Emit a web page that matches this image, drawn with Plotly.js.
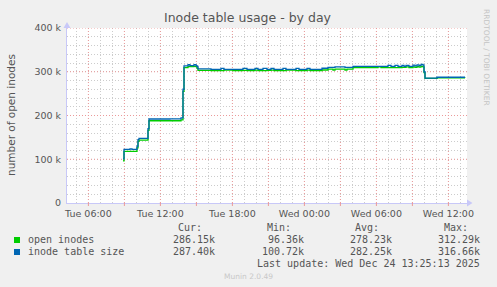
<!DOCTYPE html>
<html>
<head>
<meta charset="utf-8">
<script src="https://cdn.plot.ly/plotly-3.0.1.min.js"></script>
<style>
html,body{margin:0;padding:0;background:#f0f0f0;}
#chart{width:497px;height:287px;}
</style>
</head>
<body>
<div id="chart"></div>
<script>
// ---- data (values in thousands of inodes) ----
const times = [
  "2025-12-23 08:53","2025-12-23 08:58","2025-12-23 09:28","2025-12-23 09:38","2025-12-23 10:03",
  "2025-12-23 10:08","2025-12-23 10:13","2025-12-23 10:58","2025-12-23 11:03","2025-12-23 12:48",
  "2025-12-23 13:43","2025-12-23 13:53","2025-12-23 13:58","2025-12-23 14:18","2025-12-23 14:28",
  "2025-12-23 14:48","2025-12-23 14:58","2025-12-23 15:03","2025-12-23 15:08","2025-12-23 16:13",
  "2025-12-23 17:03","2025-12-23 17:18","2025-12-23 18:03","2025-12-23 18:53","2025-12-23 19:13",
  "2025-12-23 19:53","2025-12-23 20:08","2025-12-23 20:33","2025-12-23 20:53","2025-12-23 21:13",
  "2025-12-23 21:28","2025-12-23 22:13","2025-12-23 22:28","2025-12-23 23:18","2025-12-23 23:33",
  "2025-12-24 00:13","2025-12-24 00:28","2025-12-24 01:28","2025-12-24 01:58","2025-12-24 02:23",
  "2025-12-24 02:33","2025-12-24 03:23","2025-12-24 03:33","2025-12-24 04:03","2025-12-24 06:08",
  "2025-12-24 06:23","2025-12-24 06:58","2025-12-24 07:13","2025-12-24 07:33","2025-12-24 07:48",
  "2025-12-24 08:08","2025-12-24 08:18","2025-12-24 08:28","2025-12-24 08:43","2025-12-24 09:03",
  "2025-12-24 09:13","2025-12-24 09:23","2025-12-24 09:33","2025-12-24 09:43","2025-12-24 09:53",
  "2025-12-24 09:58","2025-12-24 10:03","2025-12-24 11:03","2025-12-24 13:23"
];
const openInodes = [
  96.36,118.0,118.0,118.0,126.0, 141.0,143.5,166.0,188.0,188.0,
  190.0,255.0,309.5,311.5,311.5, 312.3,311.5,308.0,303.0,302.5,
  302.5,303.5,302.5,303.0,302.5, 303.5,302.5,302.5,303.0,303.5,
  302.5,302.5,303.5,302.5,302.5, 303.5,302.5,304.0,306.0,304.0,
  306.0,304.0,306.0,309.5,311.0, 309.5,309.5,309.5,309.5,309.5,
  310.0,310.0,311.0,309.5,311.0, 310.0,311.5,310.5,312.29,311.0,
  298.0,285.0,286.2,286.15
];
const tableSize = [
  100.72,122.5,123.5,122.5,130.0, 145.0,147.5,170.0,192.0,192.5,
  194.5,260.0,313.5,316.0,314.0, 316.2,314.0,312.0,306.5,305.5,
  307.5,305.5,305.5,307.5,305.5, 307.5,305.5,307.5,305.5,307.5,
  305.5,307.5,305.5,307.5,305.5, 307.5,305.5,308.0,310.0,310.0,
  311.0,310.0,310.0,312.5,312.5, 312.5,314.5,312.5,314.5,312.5,
  314.5,312.5,314.5,312.5,315.0, 313.5,315.5,314.0,316.66,315.0,
  300.0,285.5,287.4,287.4
];
const seriesNames = ["open inodes","inode table size"];
const seriesColors = ["#00cc00","#0066b3"];
const statHeaders = ["Cur:","Min:","Avg:","Max:"];
const statsOpen = ["286.15k","96.36k","278.23k","312.29k"];
const statsSize = ["287.40k","100.72k","282.25k","316.66k"];
// hourly grid ticks (labels every 6 h)
const xTickVals = ["2025-12-23 05:00","2025-12-23 06:00","2025-12-23 07:00","2025-12-23 08:00","2025-12-23 09:00","2025-12-23 10:00","2025-12-23 11:00","2025-12-23 12:00","2025-12-23 13:00","2025-12-23 14:00","2025-12-23 15:00","2025-12-23 16:00","2025-12-23 17:00","2025-12-23 18:00","2025-12-23 19:00","2025-12-23 20:00","2025-12-23 21:00","2025-12-23 22:00","2025-12-23 23:00","2025-12-24 00:00","2025-12-24 01:00","2025-12-24 02:00","2025-12-24 03:00","2025-12-24 04:00","2025-12-24 05:00","2025-12-24 06:00","2025-12-24 07:00","2025-12-24 08:00","2025-12-24 09:00","2025-12-24 10:00","2025-12-24 11:00","2025-12-24 12:00","2025-12-24 13:00"];
const xTickText = ["","Tue 06:00","","","","","","Tue 12:00","","","","","","Tue 18:00","","","","","","Wed 00:00","","","","","","Wed 06:00","","","","","","Wed 12:00",""];
// red major lines every 3 h
const xMajorVals = ["2025-12-23 06:00","2025-12-23 09:00","2025-12-23 12:00","2025-12-23 15:00","2025-12-23 18:00","2025-12-23 21:00","2025-12-24 00:00","2025-12-24 03:00","2025-12-24 06:00","2025-12-24 09:00","2025-12-24 12:00"];
const yTickVals = [0,20000,40000,60000,80000,100000,120000,140000,160000,180000,200000,220000,240000,260000,280000,300000,320000,340000,360000,380000,400000];
const yTickText = ["0","","","","","100 k","","","","","200 k","","","","","300 k","","","","","400 k"];
const yMajorVals = [100000,200000,300000,400000];

const toUnits = a => a.map(v => v*1000);

const traces = [
  {x: times, y: toUnits(openInodes), name: seriesNames[0], type:"scatter", mode:"lines",
   line:{color:seriesColors[0], width:1.3, shape:"hv"}},
  {x: times, y: toUnits(tableSize), name: seriesNames[1], type:"scatter", mode:"lines",
   line:{color:seriesColors[1], width:1.3, shape:"hv"}}
];

// pixel helpers for layout placement (plot area: x 67..467, y 28..203)
const PX = px => (px-67)/400;
const PY = py => (203-py)/175;
const mono = {family:"DejaVu Sans Mono", size:10, color:"#555"};

const annotations = [
  {text:"Inode table usage - by day", x:PX(248), y:PY(18), xref:"paper", yref:"paper",
   showarrow:false, xanchor:"center", yanchor:"middle", font:{family:"DejaVu Sans", size:12.5, color:"#555"}},
  {text:"number of open inodes", x:PX(11), y:PY(115), xref:"paper", yref:"paper", textangle:-90,
   showarrow:false, xanchor:"center", yanchor:"middle", font:{family:"DejaVu Sans", size:10.5, color:"#555"}},
  {text:"RRDTOOL / TOBI OETIKER", x:PX(487), y:PY(57), xref:"paper", yref:"paper", textangle:90,
   showarrow:false, xanchor:"center", yanchor:"middle", font:{family:"DejaVu Sans", size:7.5, color:"#c4c4c4"}},
  {text:"Munin 2.0.49", x:PX(248), y:PY(276), xref:"paper", yref:"paper",
   showarrow:false, xanchor:"center", yanchor:"middle", font:{family:"DejaVu Sans", size:7.5, color:"#c8c8c8"}},
  {text:"Last update: Wed Dec 24 13:25:13 2025", x:PX(482), y:PY(263.5), xref:"paper", yref:"paper",
   showarrow:false, xanchor:"right", yanchor:"middle", font:mono},
  {text:seriesNames[0], x:PX(26), y:PY(239.5), xref:"paper", yref:"paper",
   showarrow:false, xanchor:"left", yanchor:"middle", font:mono},
  {text:seriesNames[1], x:PX(26), y:PY(251.5), xref:"paper", yref:"paper",
   showarrow:false, xanchor:"left", yanchor:"middle", font:mono}
];
const headerRight = [204,293,381,470];
const valueRight = [217,306,394,482];
statHeaders.forEach((h,i)=>{
  annotations.push({text:h, x:PX(headerRight[i]), y:PY(227.5), xref:"paper", yref:"paper",
    showarrow:false, xanchor:"right", yanchor:"middle", font:mono});
  annotations.push({text:statsOpen[i], x:PX(valueRight[i]), y:PY(239.5), xref:"paper", yref:"paper",
    showarrow:false, xanchor:"right", yanchor:"middle", font:mono});
  annotations.push({text:statsSize[i], x:PX(valueRight[i]), y:PY(251.5), xref:"paper", yref:"paper",
    showarrow:false, xanchor:"right", yanchor:"middle", font:mono});
});

const gridDash = "1px,2px";
const minorColor = "#cccccc";
const majorColor = "#eb9a9a";
const shapes = [];
// red major grid + red tick marks
xMajorVals.forEach(v=>{
  shapes.push({type:"line", layer:"between", xref:"x", yref:"y", x0:v, x1:v, y0:0, y1:400000,
    line:{color:majorColor, width:1, dash:gridDash}});
  shapes.push({type:"line", layer:"above", xref:"x", yref:"paper", x0:v, x1:v, y0:0, y1:PY(206),
    line:{color:majorColor, width:1}});
});
yMajorVals.forEach(v=>shapes.push({type:"line", layer:"between", xref:"x", yref:"y",
  x0:"2025-12-23 04:13", x1:"2025-12-24 13:33", y0:v, y1:v,
  line:{color:majorColor, width:1, dash:gridDash}}));
// legend squares
shapes.push({type:"rect", xref:"paper", yref:"paper", x0:PX(14), x1:PX(20), y0:PY(243), y1:PY(237),
   fillcolor:seriesColors[0], line:{width:0}});
shapes.push({type:"rect", xref:"paper", yref:"paper", x0:PX(14), x1:PX(20), y0:PY(255), y1:PY(249),
   fillcolor:seriesColors[1], line:{width:0}});
// axis arrows
shapes.push({type:"path", xref:"paper", yref:"paper",
   path:`M ${PX(467)} ${PY(199.5)} L ${PX(472.5)} ${PY(203)} L ${PX(467)} ${PY(206.5)} Z`,
   fillcolor:"#c8c8f8", line:{width:0}});
shapes.push({type:"path", xref:"paper", yref:"paper",
   path:`M ${PX(63.5)} ${PY(28)} L ${PX(67)} ${PY(22)} L ${PX(70.5)} ${PY(28)} Z`,
   fillcolor:"#c8c8f8", line:{width:0}});

const layout = {
  width:497, height:287,
  margin:{l:67, r:30, t:28, b:84, pad:0},
  paper_bgcolor:"#f0f0f0", plot_bgcolor:"#ffffff",
  showlegend:false,
  xaxis:{
    type:"date", range:["2025-12-23 04:13","2025-12-24 13:33"],
    tickmode:"array", tickvals:xTickVals, ticktext:xTickText,
    showgrid:true, gridcolor:minorColor, griddash:gridDash, gridwidth:1, ticks:"",
    showline:true, linecolor:"#c8c8f8", linewidth:1,
    tickfont:{family:"DejaVu Sans", size:9.5, color:"#555"},
    ticklabelstandoff:2,
    zeroline:false, fixedrange:true
  },
  yaxis:{
    range:[0,400000], tickmode:"array", tickvals:yTickVals, ticktext:yTickText,
    showgrid:true, gridcolor:minorColor, griddash:gridDash, gridwidth:1,
    ticks:"", showline:true, linecolor:"#c8c8f8", linewidth:1,
    tickfont:{family:"DejaVu Sans", size:9.5, color:"#555"},
    ticklabelstandoff:3,
    zeroline:false, fixedrange:true
  },
  annotations:annotations,
  shapes:shapes
};

Plotly.newPlot("chart", traces, layout, {staticPlot:true, displayModeBar:false});
</script>
</body>
</html>
